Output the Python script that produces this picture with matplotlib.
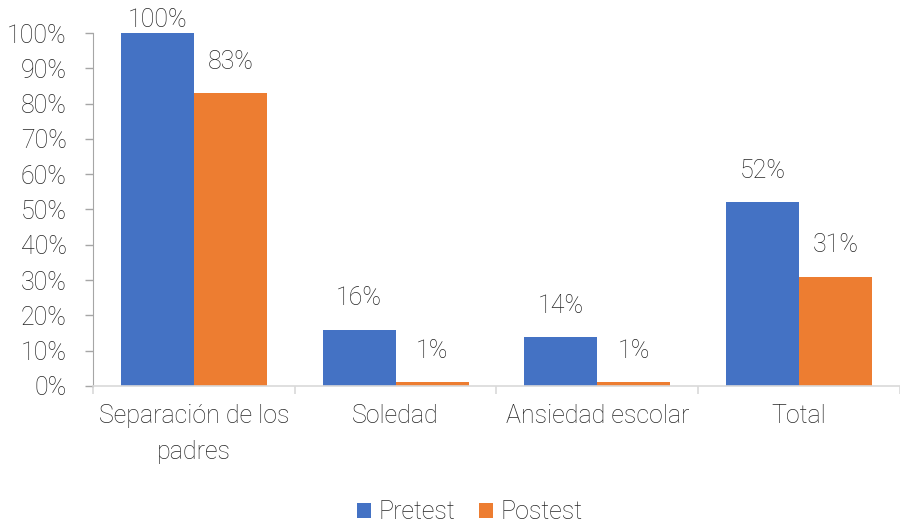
import matplotlib.pyplot as plt
import numpy as np

plt.rcParams['font.family'] = ['Roboto', 'DejaVu Sans']
plt.rcParams['font.weight'] = 'light'

categories = ["Separación de los\npadres", "Soledad", "Ansiedad escolar", "Total"]
pretest = [100, 16, 14, 52]
postest = [83, 1, 1, 31]

x = np.arange(len(categories))
width = 0.362
txt = '#262626'
fs = 18

fig = plt.figure(figsize=(9, 5.24), dpi=100)
ax = fig.add_axes([0.1033, 0.2634, 0.8967, 0.6736])

ax.bar(x - width / 2, pretest, width=width, color='#4472C4', label='Pretest')
ax.bar(x + width / 2, postest, width=width, color='#ED7D31', label='Postest')

for i in range(len(categories)):
    ax.text(x[i] - width / 2, min(pretest[i] + 8.8, 103.7), f"{pretest[i]}%", ha='center', va='center',
            fontsize=fs, color=txt, clip_on=False)
    ax.text(x[i] + width / 2, min(postest[i] + 8.8, 103.7), f"{postest[i]}%", ha='center', va='center',
            fontsize=fs, color=txt, clip_on=False)

ax.set_xlim(-0.5, 3.446)
ax.set_ylim(0, 100)
ax.set_yticks(np.arange(0, 101, 10))
ax.set_yticklabels([f"{v}%" for v in range(0, 101, 10)], fontsize=fs, color=txt)

# category labels + separator ticks
ax.set_xticks(x)
ax.set_xticklabels(categories, fontsize=fs, color=txt, linespacing=1.65)
ax.tick_params(axis='x', length=0, pad=13)
ax.set_xticks(np.arange(-0.5, 3.6, 1), minor=True)
ax.tick_params(axis='x', which='minor', length=6, color='#D9D9D9', width=1.2)
ax.tick_params(axis='y', length=6, color='#A6A6A6', width=1, pad=13)

for s in ['top', 'right']:
    ax.spines[s].set_visible(False)
ax.spines['left'].set_color('#A6A6A6')
ax.spines['bottom'].set_color('#D9D9D9')
ax.spines['bottom'].set_linewidth(1.2)

fig.legend(loc='center', ncol=2, frameon=False, fontsize=fs, bbox_to_anchor=(0.522, 0.022),
           handlelength=0.56, handleheight=0.56, handletextpad=0.3, columnspacing=0.95,
           labelcolor=txt)

plt.savefig("out.png")
